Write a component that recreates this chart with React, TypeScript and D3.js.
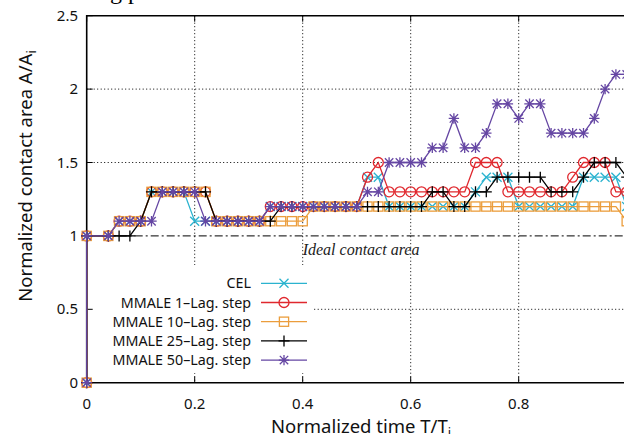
import React from "react";
import * as d3 from "d3";

const W = 624;
const H = 434;

// Normalized time samples (first two points both at t = 0: area jumps 0 -> 1)
const times = [
  0, 0, 0.04, 0.06, 0.08, 0.1, 0.12, 0.14, 0.16, 0.18, 0.2,
  0.22, 0.24, 0.26, 0.28, 0.3, 0.32, 0.34, 0.36, 0.38, 0.4,
  0.42, 0.44, 0.46, 0.48, 0.5, 0.52, 0.54, 0.56, 0.58, 0.6,
  0.62, 0.64, 0.66, 0.68, 0.7, 0.72, 0.74, 0.76, 0.78, 0.8,
  0.82, 0.84, 0.86, 0.88, 0.9, 0.92, 0.94, 0.96, 0.98, 1.0,
];

const cel = [
  0, 1, 1.0, 1.1, 1.1, 1.1, 1.3, 1.3, 1.3, 1.3, 1.1,
  1.1, 1.1, 1.1, 1.1, 1.1, 1.1, 1.2, 1.2, 1.2, 1.2,
  1.2, 1.2, 1.2, 1.2, 1.2, 1.4, 1.4, 1.2, 1.2, 1.2,
  1.2, 1.2, 1.2, 1.2, 1.2, 1.3, 1.4, 1.4, 1.4, 1.2,
  1.2, 1.2, 1.2, 1.2, 1.2, 1.4, 1.4, 1.4, 1.4, 1.2,
];

const mmale1 = [
  0, 1, 1.0, 1.1, 1.1, 1.1, 1.3, 1.3, 1.3, 1.3, 1.3,
  1.3, 1.1, 1.1, 1.1, 1.1, 1.1, 1.2, 1.2, 1.2, 1.2,
  1.2, 1.2, 1.2, 1.2, 1.2, 1.4, 1.5, 1.3, 1.3, 1.3,
  1.3, 1.3, 1.3, 1.3, 1.3, 1.5, 1.5, 1.5, 1.3, 1.3,
  1.3, 1.3, 1.3, 1.3, 1.4, 1.5, 1.5, 1.5, 1.3, 1.3,
];

const mmale10 = [
  0, 1, 1.0, 1.1, 1.1, 1.1, 1.3, 1.3, 1.3, 1.3, 1.3,
  1.3, 1.1, 1.1, 1.1, 1.1, 1.1, 1.1, 1.1, 1.1, 1.1,
  1.2, 1.2, 1.2, 1.2, 1.2, 1.2, 1.2, 1.2, 1.2, 1.2,
  1.2, 1.2, 1.2, 1.2, 1.2, 1.2, 1.2, 1.2, 1.2, 1.2,
  1.2, 1.2, 1.2, 1.2, 1.2, 1.2, 1.2, 1.2, 1.2, 1.1,
];

const mmale25 = [
  0, 1, 1.0, 1.0, 1.0, 1.1, 1.3, 1.3, 1.3, 1.3, 1.3,
  1.3, 1.1, 1.1, 1.1, 1.1, 1.1, 1.1, 1.2, 1.2, 1.2,
  1.2, 1.2, 1.2, 1.2, 1.2, 1.2, 1.2, 1.2, 1.2, 1.2,
  1.2, 1.3, 1.3, 1.2, 1.2, 1.3, 1.3, 1.4, 1.4, 1.4,
  1.4, 1.4, 1.3, 1.3, 1.3, 1.4, 1.5, 1.5, 1.5, 1.4,
];

const mmale50 = [
  0, 1, 1.0, 1.1, 1.1, 1.1, 1.1, 1.3, 1.3, 1.3, 1.3,
  1.1, 1.1, 1.1, 1.1, 1.1, 1.1, 1.2, 1.2, 1.2, 1.2,
  1.2, 1.2, 1.2, 1.2, 1.2, 1.3, 1.3, 1.5, 1.5, 1.5,
  1.5, 1.6, 1.6, 1.8, 1.6, 1.6, 1.7, 1.9, 1.9, 1.8,
  1.9, 1.9, 1.7, 1.7, 1.7, 1.7, 1.8, 2.0, 2.1, 2.1,
];

const seriesNames = [
  "CEL",
  "MMALE 1\u2013Lag. step",
  "MMALE 10\u2013Lag. step",
  "MMALE 25\u2013Lag. step",
  "MMALE 50\u2013Lag. step",
];
const seriesValues = [cel, mmale1, mmale10, mmale25, mmale50];
const seriesColors = ["#2bb3cf", "#e0282e", "#eb9d3c", "#000000", "#6546a3"];
const seriesMarkers = ["cross", "circle", "square", "plus", "star"];

const xTicks = [0, 0.2, 0.4, 0.6, 0.8];
const xTickLabels = ["0", "0.2", "0.4", "0.6", "0.8"];
const yTicks = [0, 0.5, 1, 1.5, 2, 2.5];
const yTickLabels = ["0", "0.5", "1", "1.5", "2", "2.5"];
const xGrid = [0.2, 0.4, 0.6, 0.8];
const yGrid = [0.5, 1.5, 2];
const idealLevel = 1;

const left = 86.7;
const top = 15.7;
const bottom = 382.7;
const x = d3.scaleLinear().domain([0, 1]).range([left, 626.7]);
const y = d3.scaleLinear().domain([0, 2.5]).range([bottom, top]);

const SANS = "'Noto Sans', 'DejaVu Sans', sans-serif";

function Marker({ kind, cx, cy, color }: { kind: string; cx: number; cy: number; color: string }) {
  const sw = 1.3;
  if (kind === "cross") {
    const s = 4.5;
    return (
      <path d={`M${cx - s},${cy - s}L${cx + s},${cy + s}M${cx - s},${cy + s}L${cx + s},${cy - s}`} stroke={color} strokeWidth={sw} fill="none" />
    );
  }
  if (kind === "circle") {
    return <circle cx={cx} cy={cy} r={5} stroke={color} strokeWidth={sw} fill="none" />;
  }
  if (kind === "square") {
    const s = 4.6;
    return <rect x={cx - s} y={cy - s} width={2 * s} height={2 * s} stroke={color} strokeWidth={sw} fill="none" />;
  }
  if (kind === "plus") {
    const s = 5.5;
    return <path d={`M${cx - s},${cy}L${cx + s},${cy}M${cx},${cy - s}L${cx},${cy + s}`} stroke={color} strokeWidth={sw} fill="none" />;
  }
  const s = 5.2;
  const d = 4.2;
  return (
    <path
      d={`M${cx - s},${cy}L${cx + s},${cy}M${cx},${cy - s}L${cx},${cy + s}M${cx - d},${cy - d}L${cx + d},${cy + d}M${cx - d},${cy + d}L${cx + d},${cy - d}`}
      stroke={color}
      strokeWidth={sw}
      fill="none"
    />
  );
}

export default function App() {
  const line = d3
    .line<number>()
    .x((_, i) => x(times[i]))
    .y((v) => y(v));

  const legendY0 = 283.3;
  const legendDy = 19.2;

  return (
    <svg width={W} height={H} style={{ position: "absolute", left: 0, top: 0, display: "block", background: "#fff" }}>
      <rect x={0} y={0} width={W} height={H} fill="#fff" />
      {/* cut-off title fragment */}
      <text x={110} y={-1} fontFamily="'Liberation Serif', serif" fontSize={24} fill="#000">
        g p
      </text>

      {/* grid */}
      {xGrid.map((g) => (
        <line key={"gx" + g} x1={x(g)} x2={x(g)} y1={top} y2={bottom} stroke="#000" strokeWidth={1} strokeDasharray="1,2.5" />
      ))}
      {yGrid.map((g) => (
        <line key={"gy" + g} x1={left} x2={W} y1={y(g)} y2={y(g)} stroke="#000" strokeWidth={1} strokeDasharray="1,2.5" />
      ))}

      {/* ideal contact area */}
      <line x1={x(0)} x2={x(1)} y1={y(idealLevel)} y2={y(idealLevel)} stroke="#000" strokeWidth={1} strokeDasharray="8,3,2,3" />
      <text x={x(0.4)} y={y(idealLevel) + 19} fontFamily="'Liberation Serif', serif" fontStyle="italic" fontSize={16} fill="#222">
        Ideal contact area
      </text>

      {/* legend background */}
      <rect x={88} y={265} width={225} height={108} fill="#fff" />

      {/* ticks */}
      {xTicks.map((t) => (
        <g key={"tx" + t}>
          <line x1={x(t)} x2={x(t)} y1={bottom} y2={bottom - 6} stroke="#000" strokeWidth={1} />
          <line x1={x(t)} x2={x(t)} y1={top} y2={top + 6} stroke="#000" strokeWidth={1} />
        </g>
      ))}
      {yTicks.map((t) => (
        <line key={"ty" + t} x1={left} x2={left + 6} y1={y(t)} y2={y(t)} stroke="#000" strokeWidth={1} />
      ))}

      {/* border */}
      <path d={`M${W + 2},${top}H${left}V${bottom}H${W + 2}`} fill="none" stroke="#000" strokeWidth={1.6} />

      {/* tick labels */}
      {xTicks.map((t, i) => (
        <text key={"lx" + t} x={x(t)} y={408.5} textAnchor="middle" fontFamily={SANS} fontSize={15} fill="#111">
          {xTickLabels[i]}
        </text>
      ))}
      {yTicks.map((t, i) => (
        <text key={"ly" + t} x={78} y={y(t) + 5} textAnchor="end" fontFamily={SANS} fontSize={15} fill="#111">
          {yTickLabels[i]}
        </text>
      ))}

      {/* axis titles */}
      <text x={361} y={432.5} textAnchor="middle" fontFamily={SANS} fontSize={18.5} fill="#111">
        Normalized time T/T<tspan dy={4} fontSize={13}>i</tspan>
      </text>
      <text transform="translate(32,176) rotate(-90)" textAnchor="middle" fontFamily={SANS} fontSize={18.5} fill="#111">
        Normalized contact area A/A<tspan dy={4} fontSize={13}>i</tspan>
      </text>

      {/* series */}
      {seriesValues.map((vals, si) => (
        <g key={"s" + si}>
          <path d={line(vals) || ""} fill="none" stroke={seriesColors[si]} strokeWidth={1.3} />
          {vals.map((v, i) => (
            <Marker key={i} kind={seriesMarkers[si]} cx={x(times[i])} cy={y(v)} color={seriesColors[si]} />
          ))}
        </g>
      ))}

      {/* legend */}
      {seriesNames.map((name, si) => {
        const ly = legendY0 + si * legendDy;
        return (
          <g key={"lg" + si}>
            <text x={251} y={ly + 5} textAnchor="end" fontFamily={SANS} fontSize={14.3} fill="#111">
              {name}
            </text>
            <line x1={261} x2={307} y1={ly} y2={ly} stroke={seriesColors[si]} strokeWidth={1.3} />
            <Marker kind={seriesMarkers[si]} cx={284} cy={ly} color={seriesColors[si]} />
          </g>
        );
      })}
    </svg>
  );
}
